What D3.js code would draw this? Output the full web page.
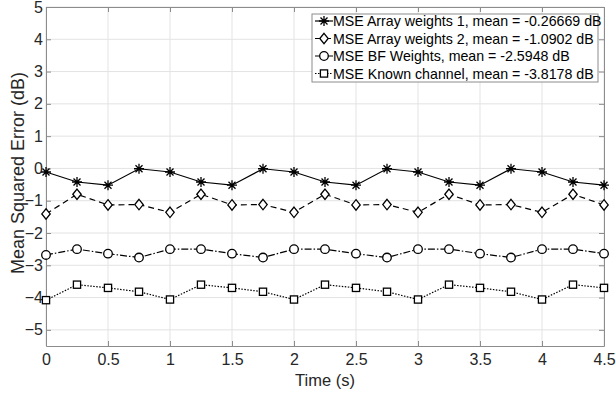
<!DOCTYPE html>
<html>
<head>
<meta charset="utf-8">
<script src="https://cdn.jsdelivr.net/npm/d3@7"></script>
<style>
body { margin: 0; background: #fff; }
svg { font-family: "Liberation Sans", Arial, sans-serif; }
</style>
</head>
<body>
<script>
// Time samples (s)
var times = [0, 0.25, 0.5, 0.75, 1, 1.25, 1.5, 1.75, 2, 2.25, 2.5, 2.75, 3, 3.25, 3.5, 3.75, 4, 4.25, 4.5];

// MSE values (dB)
var mseArray1 = [-0.11, -0.42, -0.52, -0.01, -0.11, -0.42, -0.52, -0.01, -0.11, -0.42, -0.52, -0.01, -0.11, -0.42, -0.52, -0.01, -0.11, -0.42, -0.52];
var mseArray2 = [-1.41, -0.80, -1.13, -1.12, -1.36, -0.80, -1.13, -1.12, -1.36, -0.80, -1.13, -1.12, -1.36, -0.80, -1.13, -1.12, -1.36, -0.80, -1.13];
var mseBF = [-2.68, -2.50, -2.64, -2.76, -2.50, -2.50, -2.64, -2.76, -2.50, -2.50, -2.64, -2.76, -2.50, -2.50, -2.64, -2.76, -2.50, -2.50, -2.64];
var mseKnown = [-4.08, -3.60, -3.70, -3.82, -4.06, -3.60, -3.70, -3.82, -4.06, -3.60, -3.70, -3.82, -4.06, -3.60, -3.70, -3.82, -4.06, -3.60, -3.70];

var legendLabels = ["MSE Array weights 1, mean = -0.26669 dB",
                    "MSE Array weights 2, mean = -1.0902 dB",
                    "MSE BF Weights, mean = -2.5948 dB",
                    "MSE Known channel, mean = -3.8178 dB"];

var xTicks = [0, 0.5, 1, 1.5, 2, 2.5, 3, 3.5, 4, 4.5];
var yTicks = [-5, -4, -3, -2, -1, 0, 1, 2, 3, 4, 5];

var margin = {top: 7, right: 12, bottom: 50, left: 46},
    width = 616 - margin.left - margin.right,
    height = 396 - margin.top - margin.bottom;

var x = d3.scaleLinear().domain([0, 4.5]).range([0, width]);
var y = d3.scaleLinear().domain([-5.5, 5]).range([height, 0]);

var svg = d3.select("body").append("svg")
    .attr("width", 616)
    .attr("height", 396)
  .append("g")
    .attr("transform", "translate(" + margin.left + "," + margin.top + ")");

// Grid
svg.append("g").selectAll("line")
    .data(xTicks).enter().append("line")
    .attr("x1", function(d) { return x(d); }).attr("x2", function(d) { return x(d); })
    .attr("y1", 0).attr("y2", height)
    .attr("stroke", "#e3e3e3").attr("stroke-width", 1);
svg.append("g").selectAll("line")
    .data(yTicks).enter().append("line")
    .attr("y1", function(d) { return y(d); }).attr("y2", function(d) { return y(d); })
    .attr("x1", 0).attr("x2", width)
    .attr("stroke", "#e3e3e3").attr("stroke-width", 1);

// Axes with inward ticks, MATLAB style box
function styleAxis(g) {
  g.select(".domain").attr("stroke", "#8c8c8c");
  g.selectAll(".tick line").attr("stroke", "#8c8c8c");
  g.selectAll(".tick text").attr("fill", "#262626").style("font-size", "16px");
}

svg.append("g")
    .attr("transform", "translate(0," + height + ")")
    .call(d3.axisBottom(x).tickValues(xTicks).tickSizeInner(-5).tickSizeOuter(0).tickPadding(8)
      .tickFormat(function(d) { return d; }))
    .call(styleAxis);
svg.append("g")
    .call(d3.axisLeft(y).tickValues(yTicks).tickSizeInner(-5).tickSizeOuter(0).tickPadding(3))
    .call(styleAxis);
svg.append("g")
    .call(d3.axisTop(x).tickValues(xTicks).tickSizeInner(-5).tickSizeOuter(0).tickFormat(""))
    .call(styleAxis);
svg.append("g")
    .attr("transform", "translate(" + width + ",0)")
    .call(d3.axisRight(y).tickValues(yTicks).tickSizeInner(-5).tickSizeOuter(0).tickFormat(""))
    .call(styleAxis);

// Axis labels
svg.append("text")
    .attr("x", width / 2)
    .attr("y", height + 40)
    .style("text-anchor", "middle")
    .style("font-size", "16.5px")
    .attr("fill", "#262626")
    .text("Time (s)");

svg.append("text")
    .attr("transform", "rotate(-90)")
    .attr("x", -166)
    .attr("y", -22)
    .style("text-anchor", "middle")
    .style("font-size", "18px")
    .attr("fill", "#262626")
    .text("Mean Squared Error (dB)");

// Markers
function drawMarker(g, type, cx, cy) {
  if (type == "star") {
    var r = 5;
    var p = "M" + (cx - r) + "," + cy + "L" + (cx + r) + "," + cy +
            "M" + cx + "," + (cy - r) + "L" + cx + "," + (cy + r) +
            "M" + (cx - r * 0.7) + "," + (cy - r * 0.7) + "L" + (cx + r * 0.7) + "," + (cy + r * 0.7) +
            "M" + (cx - r * 0.7) + "," + (cy + r * 0.7) + "L" + (cx + r * 0.7) + "," + (cy - r * 0.7);
    g.append("path").attr("d", p).attr("stroke", "#000").attr("stroke-width", 1.3).attr("fill", "none");
  } else if (type == "diamond") {
    var a = 5.2, b = 4.2;
    g.append("path")
      .attr("d", "M" + cx + "," + (cy - a) + "L" + (cx + b) + "," + cy + "L" + cx + "," + (cy + a) + "L" + (cx - b) + "," + cy + "Z")
      .attr("stroke", "#000").attr("stroke-width", 1.3).attr("fill", "#fff");
  } else if (type == "circle") {
    g.append("circle").attr("cx", cx).attr("cy", cy).attr("r", 4.3)
      .attr("stroke", "#000").attr("stroke-width", 1.3).attr("fill", "#fff");
  } else {
    g.append("rect").attr("x", cx - 3.6).attr("y", cy - 3.6).attr("width", 7.2).attr("height", 7.2)
      .attr("stroke", "#000").attr("stroke-width", 1.3).attr("fill", "#fff");
  }
}

var series = [
  {values: mseArray1, marker: "star", dash: null},
  {values: mseArray2, marker: "diamond", dash: "6,4"},
  {values: mseBF, marker: "circle", dash: "7,2,1.5,2"},
  {values: mseKnown, marker: "square", dash: "1.5,1.5"}
];

var line = d3.line()
    .x(function(d) { return x(d[0]); })
    .y(function(d) { return y(d[1]); });

series.forEach(function(s) {
  var pts = times.map(function(t, i) { return [t, s.values[i]]; });
  svg.append("path")
    .datum(pts)
    .attr("d", line)
    .attr("fill", "none")
    .attr("stroke", "#000")
    .attr("stroke-width", 1.2)
    .attr("stroke-dasharray", s.dash);
  var g = svg.append("g");
  pts.forEach(function(p) { drawMarker(g, s.marker, x(p[0]), y(p[1])); });
});

// Legend
var lg = svg.append("g").attr("transform", "translate(" + (312 - margin.left) + "," + (14 - margin.top) + ")");
lg.append("rect")
  .attr("width", 286).attr("height", 68)
  .attr("fill", "#fff").attr("stroke", "#8c8c8c").attr("stroke-width", 1);
legendLabels.forEach(function(label, i) {
  var cy = 7 + i * 17.5;
  var row = lg.append("g");
  row.append("line").attr("x1", 3).attr("x2", 21).attr("y1", cy).attr("y2", cy)
    .attr("stroke", "#000").attr("stroke-width", 1.2).attr("stroke-dasharray", series[i].dash);
  drawMarker(row, series[i].marker, 12, cy);
  row.append("text").attr("x", 21).attr("y", cy + 5.3)
    .style("font-size", "14.2px").attr("fill", "#000").text(label);
});
</script>
</body>
</html>
